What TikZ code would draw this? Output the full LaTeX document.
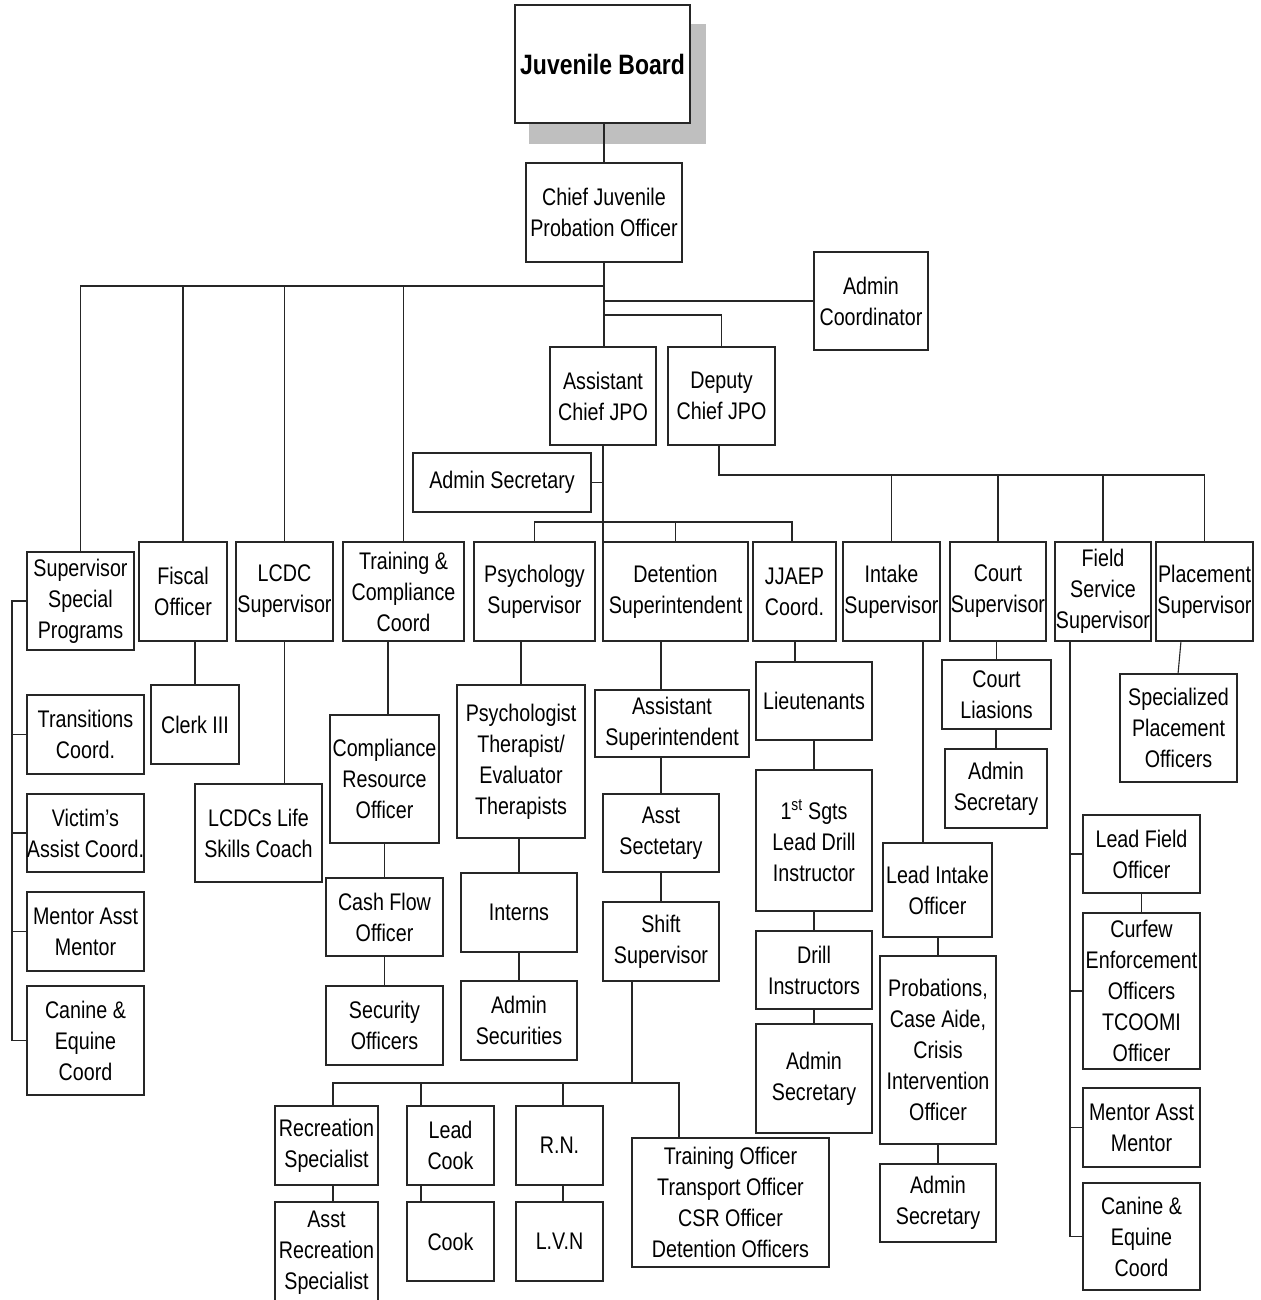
\documentclass[tikz,border=0pt]{standalone}
\usepackage{fontspec}
\setmainfont{Liberation Sans}[FakeStretch=0.82]
\tikzset{
  box/.style={draw=black!85, fill=white, line width=1.1pt, inner sep=0pt, outer sep=0pt,
    align=center, text=black, font=\fontsize{24}{31}\selectfont},
  conn/.style={draw=black!85, line width=1.1pt},
}
\newcommand\bx[6]{\node[box,minimum width={(#4-#2)*1pt},minimum height={(#5-#3)*1pt}] (#1) at ({(#2+#4)/2},{(#3+#5)/2}) {#6};}
\begin{document}
\begin{tikzpicture}[x=1pt,y=-1pt]
\useasboundingbox (0,0) rectangle (1260,1300);
\fill[white] (0,0) rectangle (1260,1300);
% shadow
\fill[black!25] (529,24) rectangle (706,144);
\bx{jb}{515}{5}{690}{123}{\fontsize{28}{34}\selectfont\bfseries Juvenile Board}
\bx{cjpo}{526}{163}{682}{262}{Chief Juvenile\\Probation Officer}
\bx{admc}{814}{252}{928}{350}{Admin\\Coordinator}
\bx{acj}{550}{347}{656}{445}{Assistant\\Chief JPO}
\bx{dcj}{668}{347}{775}{445}{Deputy\\Chief JPO}
\bx{asec}{413}{453}{591}{512}{Admin Secretary}
\bx{ssp}{27}{552}{134}{650}{Supervisor\\Special\\Programs}
\bx{fis}{139}{542}{227}{641}{Fiscal\\Officer}
\bx{lcdc}{236}{542}{333}{641}{LCDC\\Supervisor}
\bx{trn}{343}{542}{464}{641}{Training \&\\Compliance\\Coord}
\bx{psy}{474}{542}{595}{641}{Psychology\\Supervisor}
\bx{det}{603}{542}{748}{641}{Detention\\Superintendent}
\bx{jja}{753}{542}{836}{641}{JJAEP\\Coord.}
\bx{int}{843}{542}{940}{641}{Intake\\Supervisor}
\bx{crt}{950}{542}{1046}{641}{Court\\Supervisor}
\bx{fld}{1055}{542}{1151}{641}{Field\\Service\\Supervisor}
\bx{plc}{1156}{542}{1253}{641}{Placement\\Supervisor}
% level 3 and below
\bx{tra}{27}{695}{144}{774}{Transitions\\Coord.}
\bx{vic}{27}{794}{144}{872}{Victim’s\\Assist Coord.}
\bx{men}{27}{892}{144}{971}{Mentor Asst\\Mentor}
\bx{can}{27}{986}{144}{1095}{Canine \&\\Equine\\Coord}
\bx{clk}{151}{685}{239}{764}{Clerk III}
\bx{lsc}{195}{784}{322}{882}{LCDCs Life\\Skills Coach}
\bx{cro}{330}{715}{439}{843}{Compliance\\Resource\\Officer}
\bx{cfo}{326}{878}{443}{956}{Cash Flow\\Officer}
\bx{sec}{326}{986}{443}{1065}{Security\\Officers}
\bx{pth}{457}{685}{585}{838}{Psychologist\\Therapist/\\Evaluator\\Therapists}
\bx{itn}{461}{873}{577}{952}{Interns}
\bx{asu}{461}{981}{577}{1060}{Admin\\Securities}
\bx{asp}{595}{690}{749}{757}{Assistant\\Superintendent}
\bx{ast}{603}{794}{719}{872}{Asst\\Sectetary}
\bx{shf}{603}{902}{719}{981}{Shift\\Supervisor}
\bx{lt}{756}{662}{872}{740}{Lieutenants}
\bx{sgt}{756}{770}{872}{911}{1\textsuperscript{st} Sgts\\Lead Drill\\Instructor}
\bx{dri}{756}{931}{872}{1009}{Drill\\Instructors}
\bx{jas}{756}{1024}{872}{1133}{Admin\\Secretary}
\bx{lio}{883}{843}{992}{937}{Lead Intake\\Officer}
\bx{pro}{880}{956}{996}{1144}{Probations,\\Case Aide,\\Crisis\\Intervention\\Officer}
\bx{ias}{880}{1164}{996}{1242}{Admin\\Secretary}
\bx{cli}{942}{660}{1051}{729}{Court\\Liasions}
\bx{cas}{945}{749}{1047}{828}{Admin\\Secretary}
\bx{spo}{1120}{674}{1237}{782}{Specialized\\Placement\\Officers}
\bx{lfo}{1083}{815}{1200}{893}{Lead Field\\Officer}
\bx{cur}{1083}{913}{1200}{1069}{Curfew\\Enforcement\\Officers\\TCOOMI\\Officer}
\bx{fmn}{1083}{1088}{1200}{1167}{Mentor Asst\\Mentor}
\bx{fcn}{1083}{1183}{1200}{1290}{Canine \&\\Equine\\Coord}
\bx{rec}{275}{1106}{378}{1185}{Recreation\\Specialist}
\bx{lck}{407}{1106}{494}{1185}{Lead\\Cook}
\bx{rn}{516}{1106}{603}{1185}{R.N.}
\bx{tof}{632}{1138}{829}{1267}{Training Officer\\Transport Officer\\CSR Officer\\Detention Officers}
\bx{arc}{275}{1202}{378}{1304}{Asst\\Recreation\\Specialist}
\bx{cok}{407}{1202}{494}{1281}{Cook}
\bx{lvn}{516}{1202}{603}{1281}{L.V.N}
% connectors
\draw[conn] (cjpo.north |- jb.south) -- (cjpo.north);
\draw[conn] (cjpo.south) -- (cjpo.south |- acj.north);
\coordinate (b1) at (cjpo.south |- 0,286);
\draw[conn] (b1) -| (ssp.north);
\draw[conn] (b1) -| (fis.north);
\draw[conn] (b1) -| (lcdc.north);
\draw[conn] (b1) -| (trn.north);
\draw[conn] (cjpo.south |- admc.west) -- (admc.west);
\draw[conn] (cjpo.south |- 0,315) -| (dcj.north);
\draw[conn] (asec.east) -- (acj.south |- asec.east);
\draw[conn] (acj.south) -- (acj.south |- det.north);
\coordinate (b2) at (acj.south |- 0,522);
\draw[conn] (psy.north) |- (792,522) -- (792,542);
\draw[conn] (det.north) -- (det.north |- b2);
\coordinate (b3) at (719,475);
\draw[conn] (dcj.south -| b3) -- (b3) -| (plc.north);
\draw[conn] (int.north) -- (int.north |- b3);
\draw[conn] (crt.north) -- (crt.north |- b3);
\draw[conn] (fld.north) -- (fld.north |- b3);
% special programs
\draw[conn] (ssp.west) -- ++(-15,0) |- (can.west);
\draw[conn] (tra.west) -- (tra.west -| 12,0);
\draw[conn] (vic.west) -- (vic.west -| 12,0);
\draw[conn] (men.west) -- (men.west -| 12,0);
% fiscal, lcdc, training
\draw[conn] (clk.north) -- (clk.north |- fis.south);
\draw[conn] (lcdc.south) -- (lcdc.south |- lsc.north);
\draw[conn] (trn.south -| 388,0) -- (cro.north -| 388,0);
\draw[conn] (cro.south) -- (cro.south |- cfo.north);
\draw[conn] (cfo.south) -- (cfo.south |- sec.north);
% psychology
\draw[conn] (pth.north |- psy.south) -- (pth.north);
\draw[conn] (itn.north |- pth.south) -- (itn.north);
\draw[conn] (itn.south) -- (itn.south |- asu.north);
% detention
\draw[conn] (ast.north |- det.south) -- (ast.north |- asp.north);
\draw[conn] (ast.north |- asp.south) -- (ast.north);
\draw[conn] (ast.south) -- (shf.north);
\coordinate (b4) at (632,1083);
\draw[conn] (shf.south -| b4) -- (b4);
\draw[conn] (rec.north -| 333,0) -- (b4 -| 333,0) -- (b4 -| 679,0) -- (tof.north -| 679,0);
\draw[conn] (lck.north -| 421,0) -- (b4 -| 421,0);
\draw[conn] (rn.north -| 563,0) -- (b4 -| 563,0);
\draw[conn] (rec.south -| 333,0) -- (arc.north -| 333,0);
\draw[conn] (lck.south -| 421,0) -- (cok.north -| 421,0);
\draw[conn] (rn.south -| 563,0) -- (lvn.north -| 563,0);
% jjaep
\draw[conn] (jja.south -| 795,0) -- (lt.north -| 795,0);
\draw[conn] (lt.south) -- (sgt.north);
\draw[conn] (sgt.south) -- (dri.north);
\draw[conn] (dri.south) -- (jas.north);
% intake
\draw[conn] (int.south -| 923,0) -- (lio.north -| 923,0);
\draw[conn] (pro.north |- lio.south) -- (pro.north);
\draw[conn] (pro.south) -- (ias.north);
% court
\draw[conn] (cli.north |- crt.south) -- (cli.north);
\draw[conn] (cas.north |- cli.south) -- (cas.north);
% field
\draw[conn] (fld.south -| 1070,0) |- (fcn.west);
\draw[conn] (lfo.west) -- (lfo.west -| 1070,0);
\draw[conn] (cur.west) -- (cur.west -| 1070,0);
\draw[conn] (fmn.west) -- (fmn.west -| 1070,0);
\draw[conn] (lfo.south) -- (cur.north);
% placement
\draw[conn] (plc.south -| 1181,0) -- (spo.north -| 1178,0);
\end{tikzpicture}
\end{document}
